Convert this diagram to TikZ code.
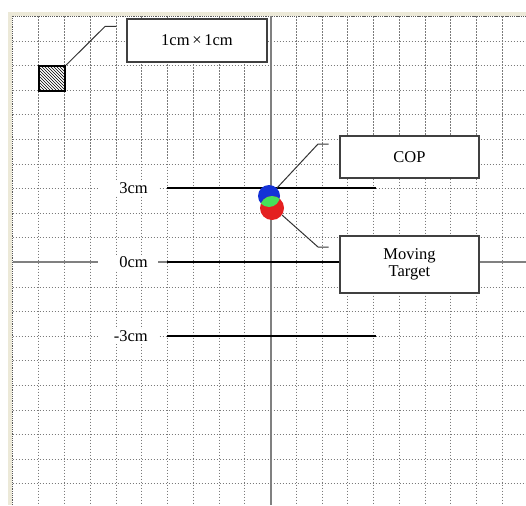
\documentclass[tikz,border=0pt]{standalone}
\usepackage{fontspec}
\setmainfont{Liberation Serif}
\usetikzlibrary{patterns}
\definecolor{winframe}{RGB}{236,233,216}
\definecolor{copblue}{RGB}{20,50,215}
\definecolor{tgtred}{RGB}{228,32,32}
\definecolor{mixgreen}{RGB}{70,225,90}
\begin{document}
\begin{tikzpicture}[x=1pt,y=-1pt,
  gridline/.style={draw=black!52, line width=1pt, dash pattern=on 1.2pt off 1.8pt},
  frameline/.style={draw=black!65, line width=1.6pt, dash pattern=on 1.3pt off 0.9pt},
  axisline/.style={draw=black!50, line width=1.6pt},
  levelline/.style={draw=black, line width=2pt},
  lbl/.style={fill=white, font=\fontsize{16.5}{18}\selectfont, text width=40pt, align=right, inner xsep=10pt, inner ysep=1pt, minimum height=15pt, anchor=east},
  callout/.style={draw=black!75, line width=1.1pt, fill=white, font=\fontsize{16.5}{17}\selectfont, align=center, inner sep=0pt},
  leader/.style={draw=black!80, line width=1pt}]
\useasboundingbox (0,0) rectangle (526,505);
\fill[white] (0,0) rectangle (526,505);
% window frame
\fill[winframe] (8,12) rectangle (526,16.5);
\fill[winframe] (8,12) rectangle (12,505);
% grid
\foreach \k in {1,...,19} \draw[gridline] ({13+25.75*\k},16.5) -- ({13+25.75*\k},505);
\foreach \j in {1,...,19} \draw[gridline] (12.5,{16.5+24.6*\j}) -- (526,{16.5+24.6*\j});
\draw[frameline] (12.5,505) -- (12.5,16.5) -- (526,16.5);
% axes
\draw[axisline] (271,16.5) -- (271,505);
\draw[axisline] (12.5,262) -- (526,262);
% level lines and labels
\node[lbl] (l3) at (158,188) {3cm};
\node[lbl] (l0) at (158,262) {0cm};
\node[lbl] (lm3) at (158,336) {-3cm};
\coordinate (p3a) at (167,188); \coordinate (p3b) at (376,188);
\coordinate (p0a) at (167,262); \coordinate (p0b) at (345,262);
\coordinate (pm3a) at (167,336); \coordinate (pm3b) at (376,336);
\draw[levelline] (p3a) -- (p3b);
\draw[levelline] (p0a) -- (p0b);
\draw[levelline] (pm3a) -- (pm3b);
% scale square
\node[draw=black, line width=2.2pt, pattern=north west lines, minimum width=26pt, minimum height=24.6pt, inner sep=0pt] (hatch) at (52,78.5) {};
\node[callout, minimum width=140pt, minimum height=43pt] (scale) at (197,40.5) {1cm\,×\,1cm};
\coordinate (e1) at (105,26.5); \coordinate (t1) at (116,26.5);
\draw[leader] (hatch.north east) -- (e1) -- (t1);
% markers
\node[circle, fill=copblue, minimum size=22pt, inner sep=0pt] (cop) at (269,196) {};
\node[circle, fill=tgtred, minimum size=24pt, inner sep=0pt] (tgt) at (272,208) {};
\begin{scope}
  \clip (269,196) circle (11);
  \fill[mixgreen] (272,208) circle (12);
\end{scope}
% callouts
\node[callout, minimum width=139pt, minimum height=42pt] (copbox) at (409.5,157) {COP};
\node[callout, minimum width=139pt, minimum height=57pt] (tgtbox) at (409.5,264.5) {Moving\\Target};
\coordinate (e2) at (318,144); \coordinate (t2) at (328.5,144);
\draw[leader] (cop.45) -- (e2) -- (t2);
\coordinate (e3) at (318,247); \coordinate (t3) at (328.5,247);
\draw[leader] (tgt.-35) -- (e3) -- (t3);
\end{tikzpicture}
\end{document}
